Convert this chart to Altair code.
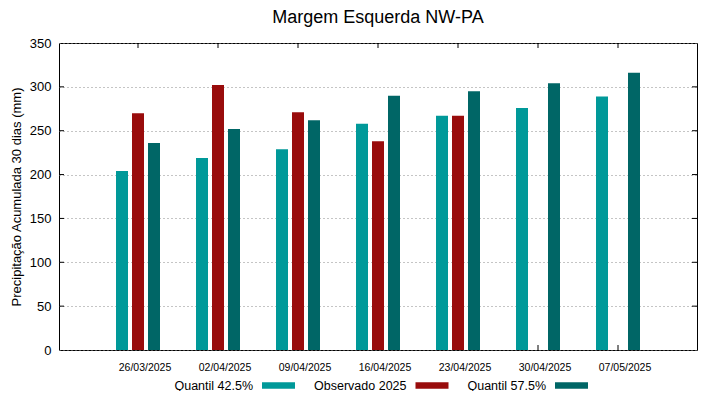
import altair as alt
import pandas as pd

dates = ["26/03/2025", "02/04/2025", "09/04/2025", "16/04/2025",
         "23/04/2025", "30/04/2025", "07/05/2025"]
q425 = [204, 219, 229, 258, 267, 276, 289]
obs = [270, 302, 271, 238, 267, None, None]
q575 = [236, 252, 262, 290, 295, 304, 316]

series = ["Quantil 42.5%", "Observado 2025", "Quantil 57.5%"]
colors = ["#009999", "#990c0c", "#006666"]
y_ticks = [0, 50, 100, 150, 200, 250, 300, 350]

rows = []
for name, vals in zip(series, [q425, obs, q575]):
    for d, v in zip(dates, vals):
        if v is not None:
            rows.append({"data": d, "serie": name, "valor": v})
df = pd.DataFrame(rows)
df_y = pd.DataFrame({"valor": y_ticks[1:-1]})
df_x = pd.DataFrame({"data": dates})

FONT = "Liberation Sans"
W, H = 638, 307
TL = 5
Y_TITLE = "Precipitação Acumulada 30 dias (mm)"

x_scale = alt.Scale(domain=dates, paddingInner=0.4, paddingOuter=0.6875)
y_scale = alt.Scale(domain=[0, 350], nice=False)

x_axis = alt.Axis(title=None, labelAngle=0, ticks=False, tickSize=0,
                  domain=False, labelPadding=12, labelOffset=7,
                  labelFontSize=10.5, labelColor="#000000", labelFont=FONT)
y_axis = alt.Axis(title=Y_TITLE, values=y_ticks,
                  ticks=False, tickSize=0, domain=False,
                  labelPadding=8, labelFontSize=13,
                  labelColor="#000000", labelFont=FONT,
                  titleFont=FONT, titleFontSize=13,
                  titleFontWeight="normal", titleColor="#000000",
                  titlePadding=6,
                  grid=True, gridColor="#8a8a8a", gridDash=[1, 3],
                  gridWidth=1)

bars = alt.Chart(df).mark_bar().encode(
    x=alt.X("data:N", sort=dates, scale=x_scale, axis=x_axis),
    xOffset=alt.XOffset("serie:N", sort=series,
                        scale=alt.Scale(domain=series, paddingInner=0.25,
                                        paddingOuter=0.125)),
    y=alt.Y("valor:Q", scale=y_scale, axis=y_axis, title=Y_TITLE),
    color=alt.Color("serie:N", sort=series,
                    scale=alt.Scale(domain=series, range=colors),
                    legend=alt.Legend(
                        title=None, orient="none", direction="horizontal",
                        legendX=203, legendY=326,
                        symbolType="M-1,-0.2H1V0.2H-1Z",
                        symbolSize=1089, symbolStrokeWidth=0,
                        symbolOpacity=1,
                        labelAlign="right",
                        labelOffset={"expr": "-42"},
                        labelFontSize=12.5, labelFont=FONT,
                        labelColor="#000000",
                        columnPadding=18.5)),
)

tick_style = dict(color="#000000", strokeWidth=1)

left_ticks = alt.Chart(df_y).mark_rule(**tick_style).encode(
    y=alt.Y("valor:Q", scale=y_scale, axis=y_axis, title=Y_TITLE),
    x=alt.value(0), x2=alt.value(TL))
right_ticks = alt.Chart(df_y).mark_rule(**tick_style).encode(
    y=alt.Y("valor:Q", scale=y_scale, axis=y_axis, title=Y_TITLE),
    x=alt.value(W - TL), x2=alt.value(W))
top_ticks = alt.Chart(df_x).mark_rule(**tick_style).encode(
    x=alt.X("data:N", sort=dates, scale=x_scale, axis=x_axis),
    y=alt.value(0), y2=alt.value(TL))
bottom_ticks = alt.Chart(df_x).mark_rule(**tick_style).encode(
    x=alt.X("data:N", sort=dates, scale=x_scale, axis=x_axis),
    y=alt.value(H - TL), y2=alt.value(H))

chart = alt.layer(left_ticks, right_ticks, top_ticks, bottom_ticks, bars).properties(
    width=W,
    height=H,
    autosize=alt.AutoSizeParams(type="none"),
    padding={"left": 51, "top": 35, "right": 14, "bottom": 41},
    title=alt.TitleParams("Margem Esquerda NW-PA", font=FONT, fontSize=18,
                          fontWeight="normal", color="#000000",
                          anchor="middle", offset=10),
).configure_view(stroke="#000000", strokeWidth=1).configure_axis(
    gridOpacity=1
)

chart.save("out.html", embed_options={"renderer": "svg", "actions": False})
